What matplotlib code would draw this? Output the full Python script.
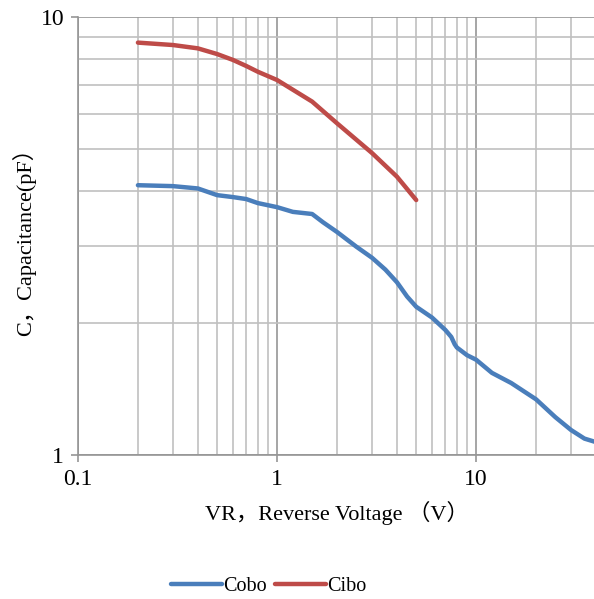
import matplotlib.pyplot as plt
from matplotlib.ticker import FixedLocator, NullFormatter, FixedFormatter

plt.rcParams['font.family'] = ['Liberation Serif', 'Noto Sans CJK SC', 'DejaVu Sans']

# Cobo curve (V, pF)
cobo_v = [0.2, 0.3, 0.4, 0.5, 0.6, 0.7, 0.8, 1.0, 1.2, 1.5, 1.7, 2.0, 2.5, 3.0, 3.5,
          4.0, 4.5, 5.0, 6.0, 7.0, 7.5, 7.8, 8.0, 9.0, 10, 12, 15, 20, 25, 30, 35, 40]
cobo_c = [4.13, 4.11, 4.06, 3.92, 3.88, 3.84, 3.76, 3.68, 3.59, 3.55, 3.40, 3.23, 2.99, 2.82, 2.65,
          2.48, 2.30, 2.18, 2.06, 1.93, 1.86, 1.79, 1.76, 1.69, 1.65, 1.54, 1.46, 1.34, 1.22, 1.14, 1.09, 1.07]

# Cibo curve (V, pF)
cibo_v = [0.2, 0.3, 0.4, 0.5, 0.6, 0.7, 0.8, 1.0, 1.5, 2.0, 3.0, 4.0, 5.0]
cibo_c = [8.74, 8.63, 8.48, 8.23, 7.98, 7.73, 7.50, 7.18, 6.41, 5.72, 4.89, 4.32, 3.82]

x_major = [0.1, 1, 10]
x_labels = ['0.1', '1', '10']
y_major = [1, 10]
y_labels = ['1', '10']

fig = plt.figure(figsize=(5.94, 5.99), dpi=100)
ax = fig.add_axes([78/594, 144/599, 518/594, 438/599])

ax.plot(cobo_v, cobo_c, color='#4a7ebb', lw=3.2, label='Cobo', solid_capstyle='round')
ax.plot(cibo_v, cibo_c, color='#be4b48', lw=3.2, label='Cibo', solid_capstyle='round')

ax.set_xscale('log')
ax.set_yscale('log')
ax.set_xlim(0.1, 40)
ax.set_ylim(1, 10)

ax.xaxis.set_major_locator(FixedLocator(x_major))
ax.xaxis.set_major_formatter(FixedFormatter(x_labels))
ax.yaxis.set_major_locator(FixedLocator(y_major))
ax.yaxis.set_major_formatter(FixedFormatter(y_labels))
xm = [k * 10.0**e for e in (-1, 0, 1) for k in range(2, 10) if k * 10.0**e <= 40]
ym = list(range(2, 10))
ax.xaxis.set_minor_locator(FixedLocator(xm))
ax.yaxis.set_minor_locator(FixedLocator(ym))
ax.xaxis.set_minor_formatter(NullFormatter())
ax.yaxis.set_minor_formatter(NullFormatter())

ax.grid(which='minor', color='#c0c0c0', lw=1.2)
ax.grid(which='major', color='#969696', lw=1.2)
ax.set_axisbelow(True)
ax.tick_params(which='minor', length=0)
ax.tick_params(which='major', length=5, width=1.2, color='#969696', labelsize=17, pad=5)

for s in ['top', 'right']:
    ax.spines[s].set_visible(False)
for s in ['left', 'bottom']:
    ax.spines[s].set_color('#969696')
    ax.spines[s].set_linewidth(1.2)

ax.set_xlabel('VR，Reverse Voltage （V）', fontsize=16, labelpad=8)
ax.set_ylabel('C，Capacitance(pF）', fontsize=16, labelpad=3)

fig.legend(loc='center', bbox_to_anchor=(269/594, 1 - 586/599), ncol=2, frameon=False,
           fontsize=14.5, handlelength=2.5, handletextpad=0.1, columnspacing=0.4)

fig.savefig('out.png', dpi=100)
